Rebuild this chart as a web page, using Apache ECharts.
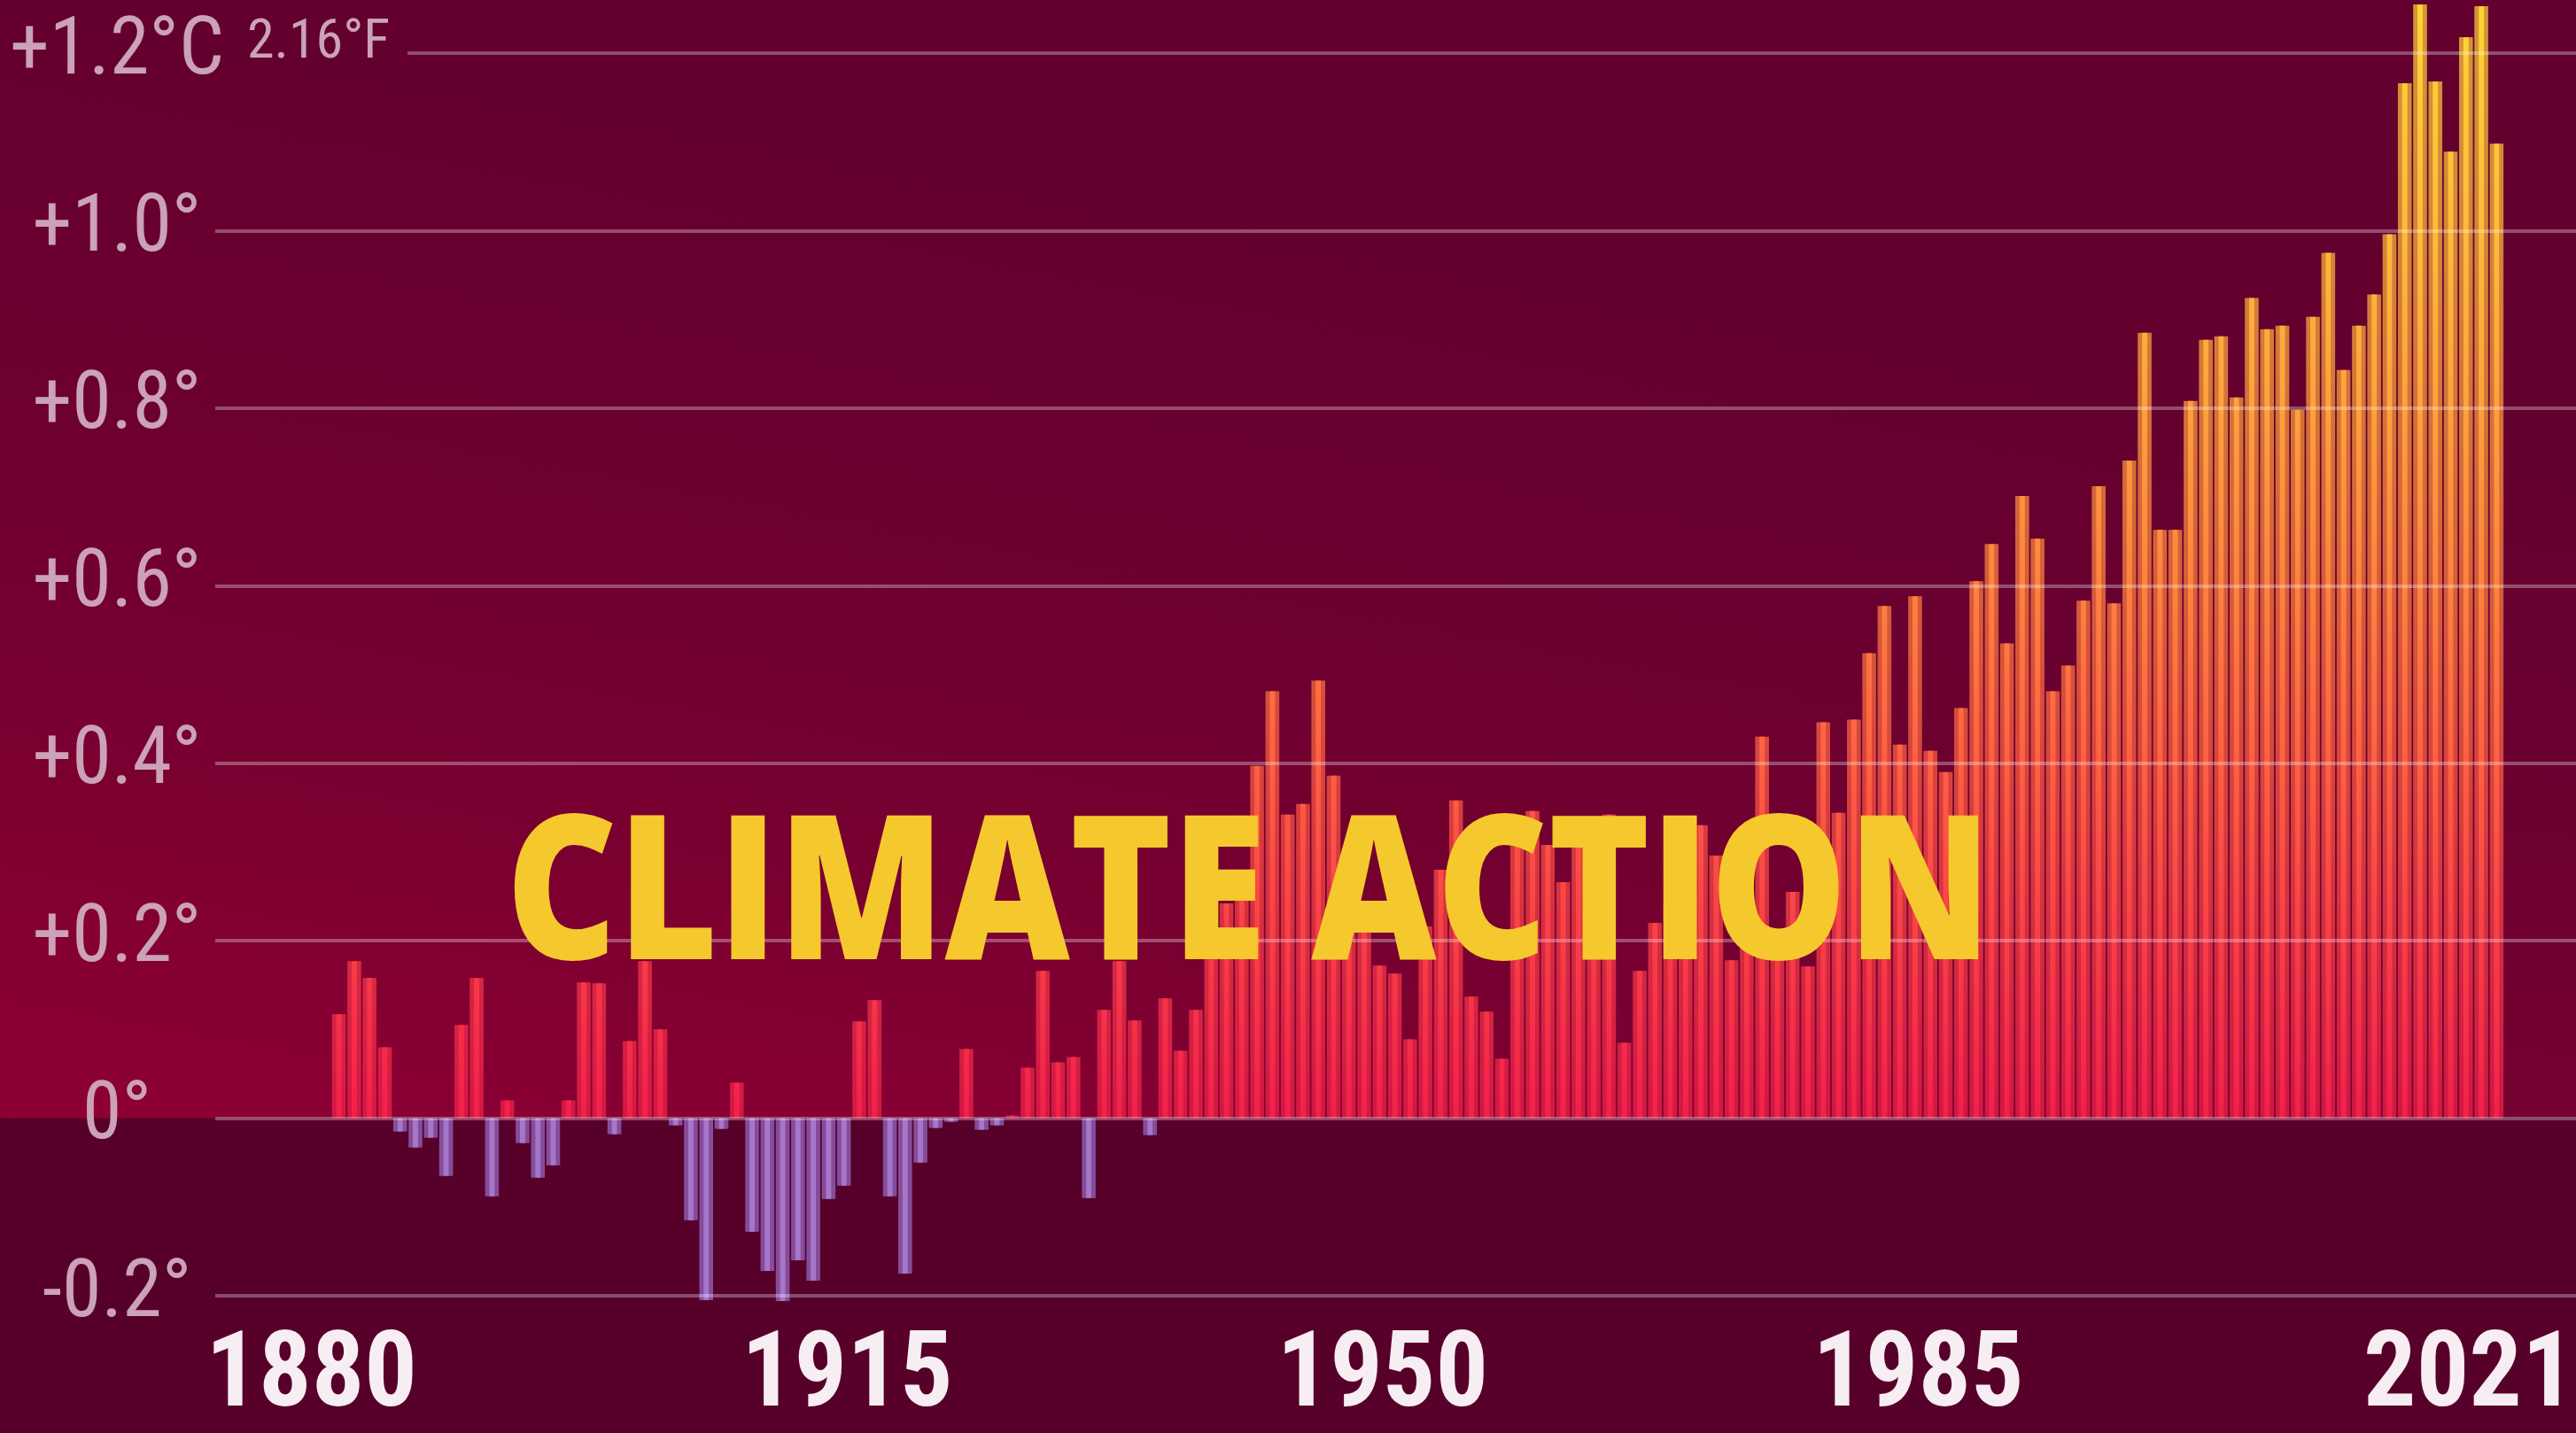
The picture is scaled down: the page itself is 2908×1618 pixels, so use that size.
<!DOCTYPE html>
<html>
<head>
<meta charset="utf-8">
<title>Climate Action – global temperature anomaly 1880–2021</title>
<script src="https://cdn.jsdelivr.net/npm/echarts@6/dist/echarts.min.js"></script>
<style>
  html, body { margin: 0; padding: 0; background: #57002a; }
  #chart { width: 2908px; height: 1618px; }
</style>
</head>
<body>
<div id="chart"></div>
<script>
// ---- data -------------------------------------------------------------
const years = [];
for (let y = 1880; y <= 2021; y++) years.push(String(y));

// annual temperature anomaly, °C
const anomalies = [
  0.117, 0.177, 0.158, 0.080, -0.015, -0.033, -0.022, -0.065, 0.105, 0.158,   // 1880s
  -0.088, 0.020, -0.028, -0.067, -0.053, 0.020, 0.153, 0.152, -0.018, 0.087,  // 1890s
  0.177, 0.100, -0.008, -0.115, -0.205, -0.012, 0.040, -0.128, -0.172, -0.206,// 1900s
  -0.160, -0.183, -0.091, -0.076, 0.109, 0.133, -0.088, -0.175, -0.050, -0.011,// 1910s
  -0.004, 0.078, -0.013, -0.008, 0.003, 0.057, 0.166, 0.063, 0.069, -0.090,   // 1920s
  0.122, 0.177, 0.110, -0.019, 0.135, 0.076, 0.122, 0.210, 0.242, 0.260,      // 1930s
  0.397, 0.481, 0.342, 0.354, 0.493, 0.386, 0.215, 0.225, 0.172, 0.163,       // 1940s
  0.089, 0.216, 0.280, 0.358, 0.137, 0.120, 0.067, 0.308, 0.346, 0.308,       // 1950s
  0.266, 0.320, 0.310, 0.342, 0.085, 0.166, 0.220, 0.240, 0.200, 0.330,       // 1960s
  0.296, 0.178, 0.270, 0.430, 0.190, 0.255, 0.171, 0.446, 0.344, 0.449,       // 1970s
  0.524, 0.577, 0.421, 0.588, 0.414, 0.390, 0.462, 0.605, 0.647, 0.535,       // 1980s
  0.701, 0.653, 0.481, 0.510, 0.583, 0.712, 0.580, 0.741, 0.885, 0.663,       // 1990s
  0.663, 0.808, 0.877, 0.881, 0.812, 0.924, 0.889, 0.893, 0.798, 0.903,       // 2000s
  0.975, 0.843, 0.893, 0.928, 0.996, 1.166, 1.255, 1.168, 1.089, 1.218,       // 2010s
  1.253, 1.098                                                                // 2020s
];

const yTicks = [-0.2, 0, 0.2, 0.4, 0.6, 0.8, 1.0, 1.2];
const yTickLabels = ['-0.2°', '0°', '+0.2°', '+0.4°', '+0.6°', '+0.8°', '+1.0°', '+1.2°C'];
const topNote = '2.16°F';
const yearTicks = ['1880', '1915', '1950', '1985', '2021'];
const headline = 'CLIMATE ACTION';

// ---- layout & style ---------------------------------------------------
const W = 2908, H = 1618;
const GRID = { left: 374, right: 81, top: 60, bottom: 155 };
const LABEL_CX = 132;            // centre of the y-axis label column
const NOTE_GAP = 26;
const AXIS_COLOR = '#cba2b8';
const GRID_LINE = 'rgba(255,255,255,0.3)';
const LINE_START = 243;          // gridlines begin right of the labels

const ctx = document.createElement('canvas').getContext('2d');
function textWidth(font, s) {
  ctx.font = '100px monospace';
  ctx.font = font;
  return ctx.measureText(s).width;
}

// narrowest installed sans face for the axis lettering
function pickNarrowFace(weight) {
  const sample = '1880 +0.8°';
  const fallbackW = textWidth(`${weight} 100px monospace`, sample);
  const faces = [
    { style: 'normal', family: '"Roboto Condensed"' },
    { style: 'normal', family: '"Noto Sans ExtraCondensed"' },
    { style: 'normal', family: '"Noto Sans Condensed"' },
    { style: 'normal', family: '"Liberation Sans Narrow"' },
    { style: 'condensed', family: 'Roboto' },
    { style: 'extra-condensed', family: '"Noto Sans"' },
    { style: 'normal', family: '"DejaVu Sans Condensed"' }
  ];
  let best = null;
  for (const f of faces) {
    const w = textWidth(`${f.style} ${weight} 100px ${f.family}, monospace`, sample);
    if (Math.abs(w - fallbackW) < 0.5) continue;
    if (!best || w < best.w) best = { ...f, w };
  }
  return best || { style: 'normal', family: 'sans-serif' };
}

// font size that balances a target width and cap height
function fitSize(face, weight, s, targetW, targetCap) {
  const w100 = textWidth(`${face.style} ${weight} 100px ${face.family}, sans-serif`, s) / 100;
  return Math.round(Math.sqrt((targetW * targetCap) / (w100 * 0.72)));
}

const yearFace = pickNarrowFace('bold');
const axisFace = pickNarrowFace('normal');
const YEAR_SIZE = Math.round(fitSize(yearFace, 'bold', '1880', 195, 95) * 1.04);
const AXIS_SIZE = fitSize(axisFace, 'normal', '+1.0°', 173, 72);
const NOTE_SIZE = Math.round(fitSize(axisFace, 'normal', topNote, 138, 57) * 0.95);
const famOf = f => f.family + ', sans-serif';

const noteW = textWidth(`${axisFace.style} normal ${NOTE_SIZE}px ${famOf(axisFace)}`, topNote) + NOTE_GAP;
const topW = textWidth(`${axisFace.style} normal ${AXIS_SIZE}px ${famOf(axisFace)}`, yTickLabels[yTickLabels.length - 1]);

const tickIndex = v => yTicks.findIndex(t => Math.abs(t - v) < 1e-6);

const chart = echarts.init(document.getElementById('chart'), null, { width: W, height: H });

chart.setOption({
  animation: false,
  backgroundColor: '#57002a',
  grid: {
    left: GRID.left, right: GRID.right, top: GRID.top, bottom: GRID.bottom,
    containLabel: false,
    outerBoundsMode: 'none'
  },
  xAxis: [{
    type: 'category',
    data: years,
    boundaryGap: true,
    axisLine: { show: false, onZero: false },
    axisTick: { show: false },
    splitLine: { show: false },
    axisLabel: {
      interval: (i, v) => yearTicks.includes(v),
      color: '#f7eef3',
      fontFamily: famOf(yearFace),
      fontStyle: yearFace.style,
      fontWeight: 'bold',
      fontSize: YEAR_SIZE,
      lineHeight: YEAR_SIZE,
      margin: 50 - Math.round(YEAR_SIZE * 0.13),
      padding: [0, 62, 0, 0]
    }
  }, {
    type: 'category',
    data: years,
    show: false,
    boundaryGap: true
  }],
  yAxis: {
    type: 'value',
    min: -0.2, max: 1.2, interval: 0.2,
    axisLine: { show: false },
    axisTick: { show: false },
    splitLine: { show: false },
    axisLabel: {
      align: 'center',
      margin: GRID.left - LABEL_CX,
      formatter: v => {
        const i = tickIndex(v);
        if (i < 0) return '';
        const t = yTickLabels[i];
        return i === yTicks.length - 1
          ? `{pad| }{big|${t}}{note|${topNote}}`
          : `{big|${t}}`;
      },
      rich: {
        pad: { width: noteW, height: AXIS_SIZE, fontSize: AXIS_SIZE },
        big: { fontFamily: famOf(axisFace), fontStyle: axisFace.style, fontSize: AXIS_SIZE, lineHeight: AXIS_SIZE, color: AXIS_COLOR, verticalAlign: 'top' },
        note: { fontFamily: famOf(axisFace), fontStyle: axisFace.style, fontSize: NOTE_SIZE, lineHeight: NOTE_SIZE, color: AXIS_COLOR, verticalAlign: 'top', padding: [3, 0, 0, NOTE_GAP] }
      }
    }
  },
  series: [
    { type: 'bar', name: 'anomaly', data: anomalies, barCategoryGap: '10%', clip: false },
    { type: 'bar', name: 'highlight', xAxisIndex: 1, data: anomalies, barWidth: '34%', clip: false, silent: true }
  ]
});

// ---- colours that depend on the drawn scale ---------------------------
const yZero = chart.convertToPixel({ yAxisIndex: 0 }, 0);
const yHot = chart.convertToPixel({ yAxisIndex: 0 }, 1.25);

const heat = () => new echarts.graphic.LinearGradient(0, yHot, 0, yZero, [
  { offset: 0.00, color: '#ffd336' },
  { offset: 0.20, color: '#ffba3a' },
  { offset: 0.36, color: '#ffa03c' },
  { offset: 0.52, color: '#ff823e' },
  { offset: 0.68, color: '#ff6042' },
  { offset: 0.84, color: '#f93e47' },
  { offset: 1.00, color: '#f2204b' }
], true);
const COOL_BASE = '#844d9b', COOL_CORE = '#a676c8';

const baseItems = anomalies.map(v => ({
  value: v,
  itemStyle: v >= 0 ? { color: heat(), opacity: 0.72 } : { color: COOL_BASE }
}));
const coreItems = anomalies.map(v => ({
  value: v,
  itemStyle: { color: v >= 0 ? heat() : COOL_CORE }
}));

// gridlines start just right of each label
const topLabelEnd = LABEL_CX + topW / 2 + noteW + 20;
const gridLines = yTicks.map((t, i) => [
  { x: i === yTicks.length - 1 ? topLabelEnd : LINE_START, yAxis: t },
  { x: W, yAxis: t }
]);

// headline, squeezed to its measured span
const TITLE_FONT = '800 228px "Open Sans", "Noto Sans", sans-serif';
const titleScale = 1677 / textWidth(TITLE_FONT, headline);

chart.setOption({
  series: [{
    data: baseItems,
    markLine: {
      silent: true,
      symbol: ['none', 'none'],
      label: { show: false },
      emphasis: { disabled: true },
      lineStyle: { color: GRID_LINE, width: 4, type: 'solid' },
      data: gridLines
    }
  }, {
    data: coreItems
  }],
  graphic: [{
    type: 'rect',
    z: -10,
    silent: true,
    shape: { x: 0, y: 0, width: W, height: yZero },
    style: {
      fill: new echarts.graphic.LinearGradient(0, 1, 0.08, 0, [
        { offset: 0.00, color: '#8e0034' },
        { offset: 0.16, color: '#850032' },
        { offset: 0.32, color: '#7a0030' },
        { offset: 0.48, color: '#72002f' },
        { offset: 0.64, color: '#6c002f' },
        { offset: 0.80, color: '#68002f' },
        { offset: 1.00, color: '#63002e' }
      ])
    }
  }, {
    type: 'text',
    z: 100,
    silent: true,
    x: 571,
    y: 1018,
    scaleX: titleScale,
    style: {
      text: headline,
      fill: '#f5c82e',
      font: TITLE_FONT,
      textAlign: 'left',
      textVerticalAlign: 'middle'
    }
  }]
});
</script>
</body>
</html>
